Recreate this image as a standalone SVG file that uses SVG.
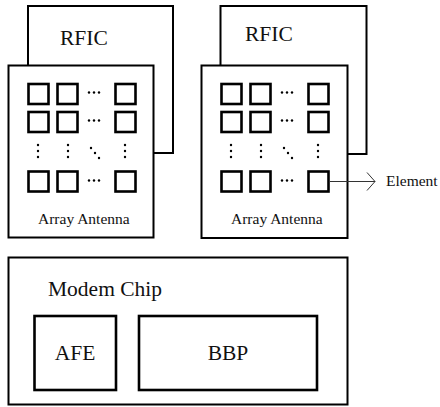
<svg xmlns="http://www.w3.org/2000/svg" width="440" height="407" viewBox="0 0 440 407">
<defs>
<style>
.box{fill:#fff;stroke:#000;stroke-width:2}
.sq{fill:#fff;stroke:#000;stroke-width:2.6}
.dot{fill:#000}
text{font-family:'Liberation Serif','DejaVu Serif',serif;fill:#111}
.big{font-size:21.5px}
.small{font-size:15.5px}
</style>
<marker id="chev" markerWidth="12" markerHeight="20" refX="9" refY="10" orient="auto" markerUnits="userSpaceOnUse">
<path d="M1,1 L9,10 L1,19" fill="none" stroke="#333" stroke-width="1"/>
</marker>
<g id="arraydots">
<circle class="dot" cx="89" cy="92.5" r="1.2"/><circle class="dot" cx="94" cy="92.5" r="1.2"/><circle class="dot" cx="99" cy="92.5" r="1.2"/>
<circle class="dot" cx="89" cy="120.5" r="1.2"/><circle class="dot" cx="94" cy="120.5" r="1.2"/><circle class="dot" cx="99" cy="120.5" r="1.2"/>
<circle class="dot" cx="89" cy="180.5" r="1.2"/><circle class="dot" cx="94" cy="180.5" r="1.2"/><circle class="dot" cx="99" cy="180.5" r="1.2"/>
<circle class="dot" cx="38" cy="145" r="1.2"/><circle class="dot" cx="38" cy="151" r="1.2"/><circle class="dot" cx="38" cy="157" r="1.2"/>
<circle class="dot" cx="68" cy="145" r="1.2"/><circle class="dot" cx="68" cy="151" r="1.2"/><circle class="dot" cx="68" cy="157" r="1.2"/>
<circle class="dot" cx="125" cy="145" r="1.2"/><circle class="dot" cx="125" cy="151" r="1.2"/><circle class="dot" cx="125" cy="157" r="1.2"/>
<circle class="dot" cx="91" cy="148" r="1.2"/><circle class="dot" cx="95" cy="153" r="1.2"/><circle class="dot" cx="99" cy="158" r="1.2"/>
</g>
<g id="squares">
<rect class="sq" x="28.5" y="84" width="20" height="20"/><rect class="sq" x="57.5" y="84" width="20" height="20"/><rect class="sq" x="115.5" y="84" width="20" height="20"/>
<rect class="sq" x="28.5" y="112" width="20" height="20"/><rect class="sq" x="57.5" y="112" width="20" height="20"/><rect class="sq" x="115.5" y="112" width="20" height="20"/>
<rect class="sq" x="28.5" y="171.5" width="20" height="20"/><rect class="sq" x="57.5" y="171.5" width="20" height="20"/><rect class="sq" x="115.5" y="171.5" width="20" height="20"/>
</g>
</defs>

<g id="rfic-left">
<rect class="box" x="28" y="6" width="145" height="147"/>
<text class="big" x="60" y="45" font-family="Liberation Serif, DejaVu Serif, serif">RFIC</text>
</g>
<g id="antenna-left">
<rect class="box" x="8.5" y="65.5" width="145" height="172"/>
<use href="#squares"/>
<use href="#arraydots"/>
<text class="small" x="38" y="224">Array Antenna</text>
</g>

<g id="rfic-right">
<rect class="box" x="220.5" y="6" width="146" height="148"/>
<text class="big" x="245" y="41">RFIC</text>
</g>
<g id="antenna-right">
<rect class="box" x="201.5" y="65.5" width="146" height="172.5"/>
<g transform="translate(193,0)">
<use href="#squares"/>
<use href="#arraydots"/>
</g>
<text class="small" x="231" y="224">Array Antenna</text>
</g>

<g id="element-label">
<text class="small" x="386" y="186">Element</text>
</g>

<g id="modem">
<rect class="box" x="8.5" y="257.5" width="339" height="147"/>
<text class="big" x="48" y="296">Modem Chip</text>
</g>
<g id="afe">
<rect class="sq" x="34.5" y="316" width="81.5" height="74"/>
<text class="big" x="75" y="360" text-anchor="middle">AFE</text>
</g>
<g id="bbp">
<rect class="sq" x="139" y="316" width="178" height="74"/>
<text class="big" x="228" y="360" text-anchor="middle">BBP</text>
</g>

<g id="connectors">
<line x1="329" y1="181.5" x2="375" y2="181.5" stroke="#333" stroke-width="1" marker-end="url(#chev)"/>
</g>
</svg>
